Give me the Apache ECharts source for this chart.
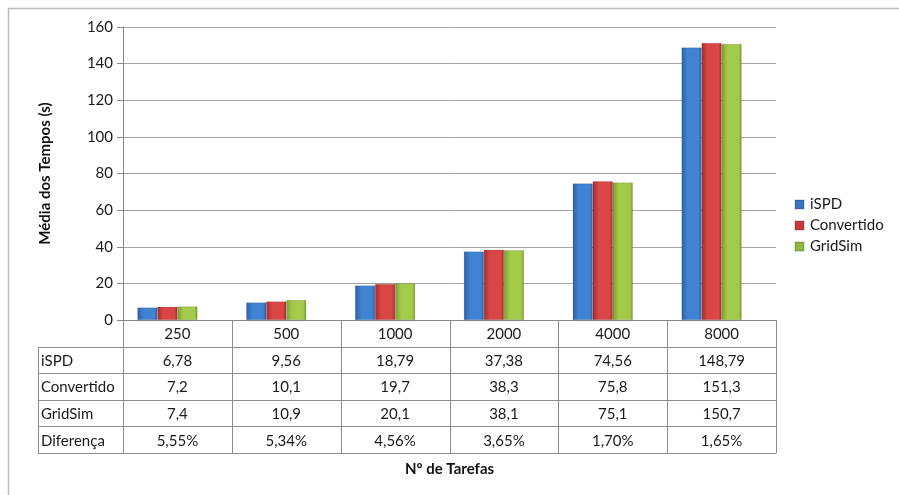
<!DOCTYPE html>
<html>
<head>
<meta charset="utf-8">
<script src="https://cdn.jsdelivr.net/npm/echarts@6/dist/echarts.min.js"></script>
<style>
  html, body { margin: 0; padding: 0; background: #fff; }
  #chart { width: 899px; height: 495px; }
</style>
</head>
<body>
<div id="chart"></div>
<script>
// dados
var categories = ['250', '500', '1000', '2000', '4000', '8000'];
var ispd = [6.78, 9.56, 18.79, 37.38, 74.56, 148.79];
var convertido = [7.2, 10.1, 19.7, 38.3, 75.8, 151.3];
var gridsim = [7.4, 10.9, 20.1, 38.1, 75.1, 150.7];
var diferenca = ['5,55%', '5,34%', '4,56%', '3,65%', '1,70%', '1,65%'];
var seriesNames = ['iSPD', 'Convertido', 'GridSim'];

var FONT = 'Lato';
var FS = 15;
var gridLeft = 123, gridRight = 123, gridTop = 27, gridBottom = 175;
var rowH = 26.6;

function fmt(v) { return String(v).replace('.', ','); }

function barColor(dark, light) {
    return new echarts.graphic.LinearGradient(0, 0, 1, 0, [
        { offset: 0, color: dark },
        { offset: 0.3, color: light },
        { offset: 0.85, color: light },
        { offset: 1, color: dark }
    ]);
}

var colors = [
    barColor('#2c5fa6', '#4083d2'),
    barColor('#a82b2b', '#d94646'),
    barColor('#7d9e2e', '#a4ca4a')
];
var legendColors = ['#3a73be', '#c83a3a', '#92b83e'];

var chart = echarts.init(document.getElementById('chart'));

var option = {
    backgroundColor: '#fff',
    animation: false,
    textStyle: { fontFamily: FONT },
    grid: [
        { left: gridLeft, right: gridRight, top: gridTop, bottom: gridBottom },
        { left: gridLeft - 10, right: gridRight + 10, top: gridTop, bottom: gridBottom }
    ],
    legend: {
        orient: 'vertical',
        left: 789,
        top: 192,
        itemWidth: 9,
        itemHeight: 9,
        itemGap: 6,
        icon: 'rect',
        textStyle: { fontFamily: FONT, fontSize: FS, color: '#1a1a1a', padding: [0, 0, 0, 1] },
        data: seriesNames.map(function (n, i) {
            return { name: n, itemStyle: { color: legendColors[i] } };
        })
    },
    xAxis: [
        {
            type: 'category',
            gridIndex: 0,
            data: categories,
            axisLine: { lineStyle: { color: '#888' } },
            axisTick: { show: false },
            axisLabel: { color: '#1a1a1a', fontSize: FS, margin: 7, fontFamily: FONT },
            name: 'Nº de Tarefas',
            nameLocation: 'middle',
            nameGap: 142,
            nameTextStyle: { fontWeight: 'bold', fontSize: FS, color: '#111', fontFamily: FONT }
        },
        {
            type: 'category',
            gridIndex: 1,
            data: categories,
            show: false
        }
    ],
    yAxis: [
        {
            type: 'value',
            gridIndex: 0,
            min: 0,
            max: 160,
            interval: 20,
            axisLine: { show: true, lineStyle: { color: '#888' } },
            axisTick: { show: true, length: 6, lineStyle: { color: '#888' } },
            splitLine: { lineStyle: { color: '#a6a6a6' } },
            axisLabel: { color: '#1a1a1a', fontSize: FS, margin: 10, fontFamily: FONT },
            name: 'Média dos Tempos (s)',
            nameLocation: 'middle',
            nameGap: 70,
            nameTextStyle: { fontWeight: 'bold', fontSize: FS, color: '#111', fontFamily: FONT }
        },
        {
            type: 'value',
            gridIndex: 1,
            min: 0,
            max: 160,
            interval: 20,
            show: false
        }
    ],
    series: [ispd, convertido, gridsim].map(function (d, i) {
        return {
            name: seriesNames[i],
            type: 'bar',
            xAxisIndex: 1,
            yAxisIndex: 1,
            barWidth: 20,
            barGap: '0%',
            itemStyle: { color: colors[i], borderColor: 'rgba(0,0,0,0.12)', borderWidth: 0.5 },
            data: d
        };
    })
};

chart.setOption(option);

// tabela de dados abaixo do eixo
function buildTable() {
    var y0 = chart.convertToPixel({ yAxisIndex: 0 }, 0);
    var c0 = chart.convertToPixel({ xAxisIndex: 0 }, categories[0]);
    var c1 = chart.convertToPixel({ xAxisIndex: 0 }, categories[1]);
    var band = c1 - c0;
    var leftX = 38;
    var rows = [
        { label: 'iSPD', vals: ispd.map(fmt) },
        { label: 'Convertido', vals: convertido.map(fmt) },
        { label: 'GridSim', vals: gridsim.map(fmt) },
        { label: 'Diferença', vals: diferenca }
    ];
    var lineStyle = { stroke: '#8c8c8c', lineWidth: 1 };
    var els = [];
    var bottomY = y0 + rowH * (rows.length + 1);
    var rightX = c0 - band / 2 + band * categories.length;

    // linhas horizontais
    for (var r = 1; r <= rows.length + 1; r++) {
        var yy = Math.round(y0 + rowH * r) + 0.5;
        els.push({ type: 'line', shape: { x1: leftX, y1: yy, x2: rightX, y2: yy }, style: lineStyle, silent: true });
    }
    // linhas verticais
    els.push({ type: 'line', shape: { x1: leftX + 0.5, y1: Math.round(y0 + rowH) + 0.5, x2: leftX + 0.5, y2: Math.round(bottomY) + 0.5 }, style: lineStyle, silent: true });
    for (var k = 0; k <= categories.length; k++) {
        var xx = Math.round(c0 - band / 2 + band * k) + 0.5;
        els.push({ type: 'line', shape: { x1: xx, y1: y0, x2: xx, y2: Math.round(bottomY) + 0.5 }, style: lineStyle, silent: true });
    }
    // textos
    rows.forEach(function (row, r) {
        var cy = y0 + rowH * (r + 1) + rowH / 2 + 1;
        els.push({ type: 'text', x: leftX + 3, y: cy, style: { text: row.label, fontSize: FS, fontFamily: FONT, fill: '#1a1a1a', verticalAlign: 'middle', align: 'left' }, silent: true });
        row.vals.forEach(function (v, i) {
            els.push({ type: 'text', x: c0 + band * i, y: cy, style: { text: v, fontSize: FS, fontFamily: FONT, fill: '#1a1a1a', verticalAlign: 'middle', align: 'center' }, silent: true });
        });
    });
    // moldura externa
    els.push({ type: 'rect', shape: { x: 8.5, y: 8.5, width: 1000, height: 1000 }, style: { fill: null, stroke: '#bdbdbd', lineWidth: 1.5 }, silent: true, z: -1 });

    chart.setOption({ graphic: els });
}
buildTable();
</script>
</body>
</html>
